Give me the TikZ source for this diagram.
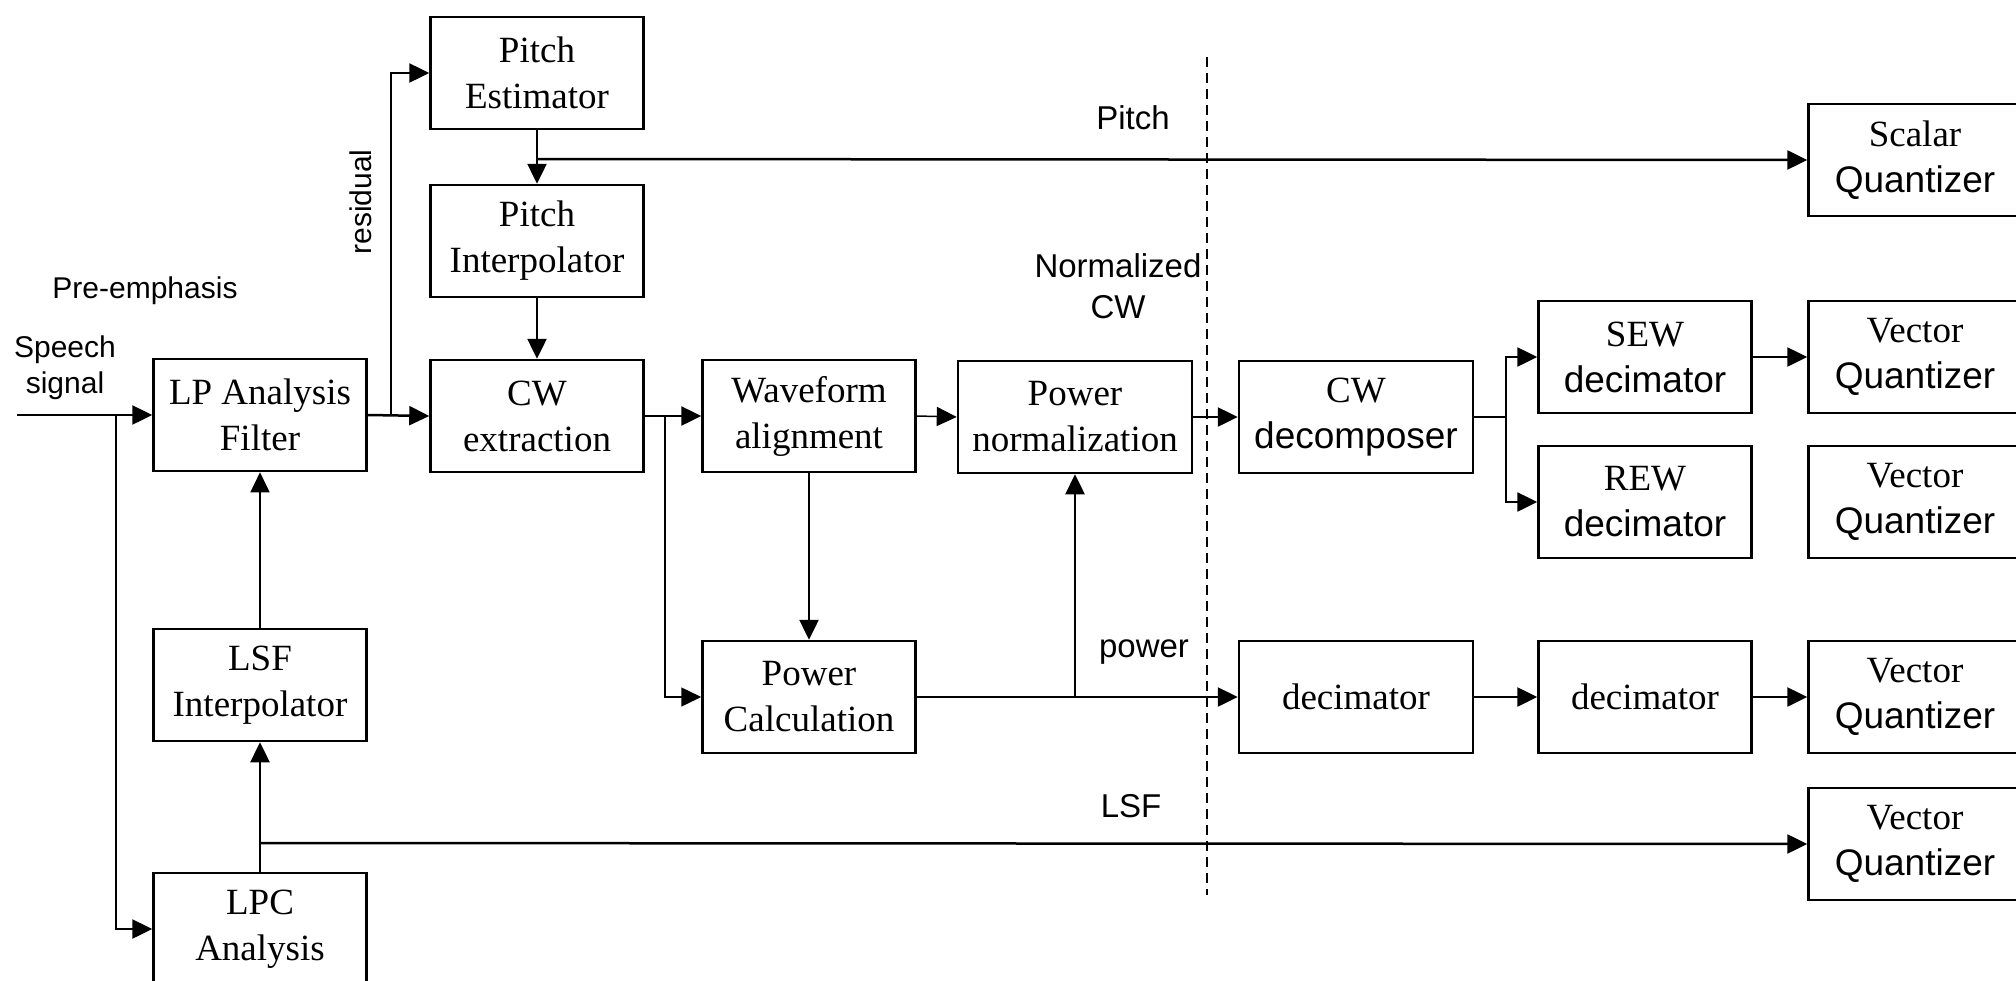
\documentclass[tikz,border=0pt]{standalone}
\usepackage{fontspec}
\setmainfont{Liberation Serif}
\setsansfont{Liberation Sans}
\usetikzlibrary{arrows.meta}

\begin{document}
\begin{tikzpicture}[x=1pt, y=-1pt,
  block/.style={draw, line width=2.5pt, rectangle, align=center, inner sep=0pt,
    minimum width=213pt, minimum height=112pt, font=\fontsize{37}{46}\selectfont},
  wide/.style={block, minimum width=234pt},
  tag/.style={align=center, inner sep=0pt, font=\sffamily\fontsize{33}{41}\selectfont},
  smalltag/.style={tag, font=\sffamily\fontsize{30}{36}\selectfont},
  arr/.style={line width=2.5pt, -{Triangle[length=20pt, width=19pt]}},
  thinarr/.style={arr, line width=1.5pt}]
  \useasboundingbox (0,0) rectangle (2016,980);
  \clip (0,0) rectangle (2016,980);

  % Define blocks
  \node[block] (pe) at (537,73) {Pitch\\Estimator};
  \node[block] (pi) at (537,241) {Pitch\\Interpolator};
  \node[block] (cwx) at (537,416) {CW\\extraction};
  \node[block] (lpf) at (260,415) {LP Analysis\\Filter};
  \node[block] (lsfi) at (260,685) {LSF\\Interpolator};
  \node[block] (lpc) at (260,929) {LPC\\Analysis};
  \node[block] (wa) at (809,416) {Waveform\\alignment};
  \node[wide] (pn) at (1075,417) {Power\\normalization};
  \node[block] (pc) at (809,697) {Power\\Calculation};
  \node[wide] (cwd) at (1356,417) {CW\\{\sffamily decomposer}};
  \node[block] (sew) at (1645,357) {SEW\\{\sffamily decimator}};
  \node[block] (rew) at (1645,502) {REW\\{\sffamily decimator}};
  \node[wide] (dec1) at (1356,697) {decimator};
  \node[block] (dec2) at (1645,697) {decimator};
  \node[block] (sq) at (1915,160) {Scalar\\{\sffamily Quantizer}};
  \node[block] (vq1) at (1915,357) {Vector\\{\sffamily Quantizer}};
  \node[block] (vq2) at (1915,502) {Vector\\{\sffamily Quantizer}};
  \node[block] (vq3) at (1915,697) {Vector\\{\sffamily Quantizer}};
  \node[block] (vq4) at (1915,844) {Vector\\{\sffamily Quantizer}};

  % Labels
  \node[smalltag] (speech) at (65,368) {Speech\\signal};
  \node[smalltag] (pre) at (145,291) {Pre-emphasis};
  \node[smalltag, rotate=90] (residual) at (361,202) {residual};
  \node[tag] (pitch) at (1133,118) {Pitch};
  \node[tag] (ncw) at (1118,286) {Normalized\\CW};
  \node[tag] (power) at (1144,652) {power};
  \node[tag] (lsf) at (1131,806) {LSF};

  % Branch points
  \coordinate (in) at (17,415);
  \coordinate (sp) at (116,415);
  \coordinate (rs) at (391,415);
  \coordinate (pj) at (537,159);
  \coordinate (cj) at (665,416);
  \coordinate (pw) at (1075,697);
  \coordinate (dj) at (1506,417);
  \coordinate (lj) at (260,843);

  % Draw connectors
  \draw[arr] (in) -- (lpf.west);
  \draw[arr] (sp) |- (lpc.west);
  \draw[arr] (lpf.east) -- (cwx.west);
  \draw[arr] (rs) |- (pe.west);
  \draw[arr] (pe.south) -- (pi.north);
  \draw[arr] (pj) -- (sq.west);
  \draw[arr] (pi.south) -- (cwx.north);
  \draw[arr] (cwx.east) -- (wa.west);
  \draw[thinarr] (cj) |- (pc.west);
  \draw[thinarr] (wa.east) -- (pn.west);
  \draw[arr] (wa.south) -- (pc.north);
  \draw[arr] (pc.east) -- (dec1.west);
  \draw[arr] (pw) -- (pn.south);
  \draw[arr] (pn.east) -- (cwd.west);
  \draw[line width=2.5pt] (cwd.east) -- (dj);
  \draw[arr] (dj) |- (sew.west);
  \draw[arr] (dj) |- (rew.west);
  \draw[arr] (sew.east) -- (vq1.west);
  \draw[arr] (dec1.east) -- (dec2.west);
  \draw[arr] (dec2.east) -- (vq3.west);
  \draw[thinarr] (lsfi.north) -- (lpf.south);
  \draw[arr] (lpc.north) -- (lsfi.south);
  \draw[arr] (lj) -- (vq4.west);

  % Separator
  \draw[line width=1.8pt, dash pattern=on 10pt off 6pt] (1207,57) -- (1207,895);
\end{tikzpicture}
\end{document}
